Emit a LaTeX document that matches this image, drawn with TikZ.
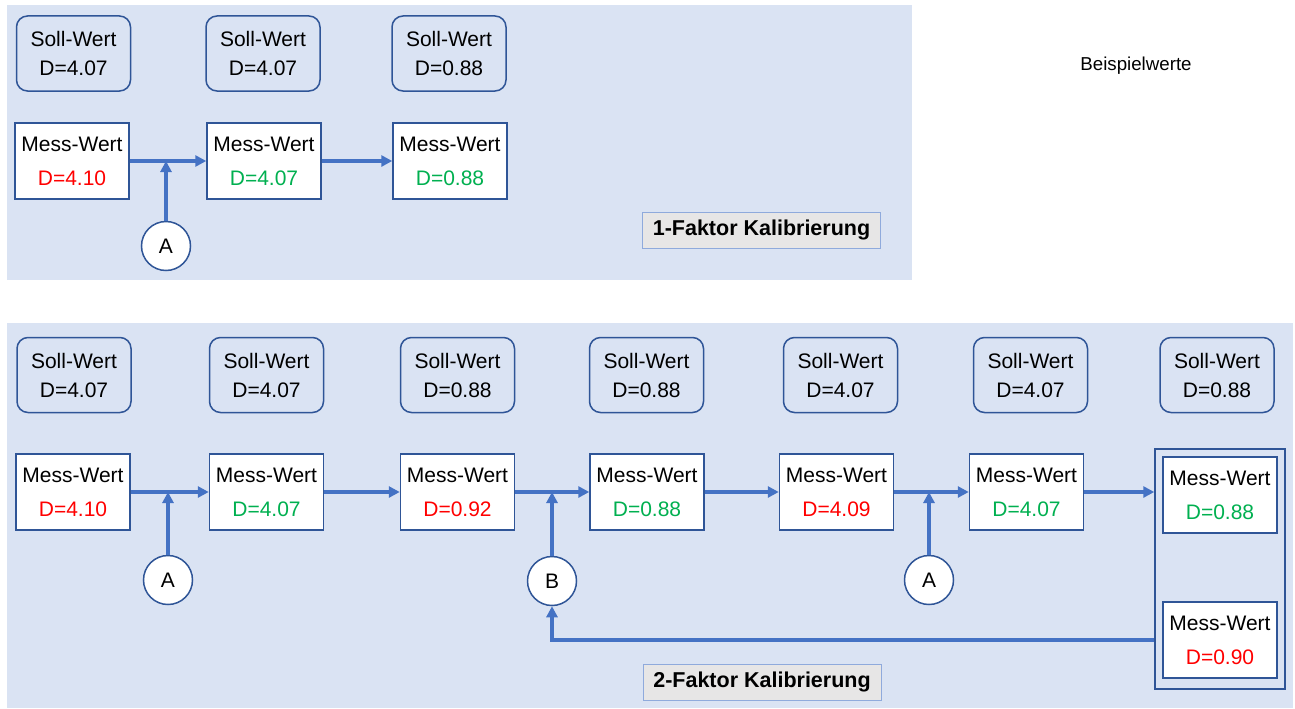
\documentclass[tikz,border=0pt]{standalone}
\usepackage{fontspec}
\setmainfont{Liberation Sans}
\usetikzlibrary{arrows.meta,positioning}
\definecolor{bgblue}{RGB}{218,227,243}
\definecolor{boxblue}{RGB}{47,85,151}
\definecolor{arrblue}{RGB}{68,114,196}
\definecolor{okgreen}{RGB}{0,176,80}
\definecolor{lblgray}{RGB}{231,230,230}
\definecolor{lblblue}{RGB}{143,170,220}
\newcommand\rotwert[1]{\textcolor{red}{#1}}
\newcommand\gruenwert[1]{\textcolor{okgreen}{#1}}

\begin{document}
\begin{tikzpicture}[x=1pt,y=-1pt,
  soll/.style={draw=boxblue,line width=1.5pt,rounded corners=11pt,minimum width=114pt,minimum height=75pt,align=center,inner sep=1pt},
  mess/.style={draw=boxblue,line width=1.5pt,fill=white,minimum width=114pt,minimum height=76pt,align=center,inner sep=1pt},
  kreis/.style={circle,draw=boxblue,line width=1.5pt,fill=white,minimum size=49pt,inner sep=0pt},
  pfeil/.style={draw=arrblue,line width=3.2pt,-{Triangle[length=11pt,width=11pt]}},
  titel/.style={draw=lblblue,line width=1pt,fill=lblgray,font=\bfseries\fontsize{21.5}{25}\selectfont,minimum width=238pt,minimum height=36pt}]
\fontsize{21}{25}\selectfont
\def\sw{Soll-Wert\\[4pt]}
\def\mw{Mess-Wert\\[9pt]}
\useasboundingbox (0,0) rectangle (1295,709);

\fill[bgblue] (7,5) rectangle (912,280);
\node[soll] (s1) at (73.5,53.5) {\sw D=4.07};
\node[soll] (s2) at (263,53.5) {\sw D=4.07};
\node[soll] (s3) at (449,53.5) {\sw D=0.88};
\node[mess] (m1) at (72,161) {\mw\rotwert{D=4.10}};
\node[mess] (m2) at (264,161) {\mw\gruenwert{D=4.07}};
\node[mess] (m3) at (450,161) {\mw\gruenwert{D=0.88}};
\node[kreis] (a1) at (166,246) {A};
\node[titel] (t1) at (761.5,230) {1-Faktor Kalibrierung};
\draw[pfeil] (m1) -- (m2);
\draw[pfeil] (m2) -- (m3);
\draw[pfeil] (a1) -- (a1 |- m1.east);
\node[font=\fontsize{18.7}{22}\selectfont] (bsp) at (1136,66) {Beispielwerte};

\fill[bgblue] (7,323) rectangle (1293,708);
\node[soll] (u1) at (74,375) {\sw D=4.07};
\node[soll] (u2) at (266.5,375) {\sw D=4.07};
\node[soll] (u3) at (457.5,375) {\sw D=0.88};
\node[soll] (u4) at (646.5,375) {\sw D=0.88};
\node[soll] (u5) at (840.5,375) {\sw D=4.07};
\node[soll] (u6) at (1030.5,375) {\sw D=4.07};
\node[soll] (u7) at (1217,375) {\sw D=0.88};
\node[mess] (n1) at (73,492) {\mw\rotwert{D=4.10}};
\node[mess] (n2) at (266.5,492) {\mw\gruenwert{D=4.07}};
\node[mess] (n3) at (457.5,492) {\mw\rotwert{D=0.92}};
\node[mess] (n4) at (647,492) {\mw\gruenwert{D=0.88}};
\node[mess] (n5) at (836.5,492) {\mw\rotwert{D=4.09}};
\node[mess] (n6) at (1026.5,492) {\mw\gruenwert{D=4.07}};
\node[draw=boxblue,line width=1.5pt,minimum width=130pt,minimum height=240pt] (grp) at (1220,569) {};
\node[mess] (n7) at (1220,495) {\mw\gruenwert{D=0.88}};
\node[mess] (n8) at (1220,640) {\mw\rotwert{D=0.90}};
\node[kreis] (a2) at (168,580) {A};
\node[kreis] (b1) at (552,581) {B};
\node[kreis] (a3) at (929,580) {A};
\node[titel] (t2) at (762,682) {2-Faktor Kalibrierung};
\draw[pfeil] (n1) -- (n2);
\draw[pfeil] (n2) -- (n3);
\draw[pfeil] (n3) -- (n4);
\draw[pfeil] (n4) -- (n5);
\draw[pfeil] (n5) -- (n6);
\draw[pfeil] (n6) -- (grp.west |- n6.east);
\draw[pfeil] (a2) -- (a2 |- n1.east);
\draw[pfeil] (b1) -- (b1 |- n3.east);
\draw[pfeil] (a3) -- (a3 |- n5.east);
\draw[pfeil] (grp.west |- n8.west) -| (b1);
\end{tikzpicture}
\end{document}
